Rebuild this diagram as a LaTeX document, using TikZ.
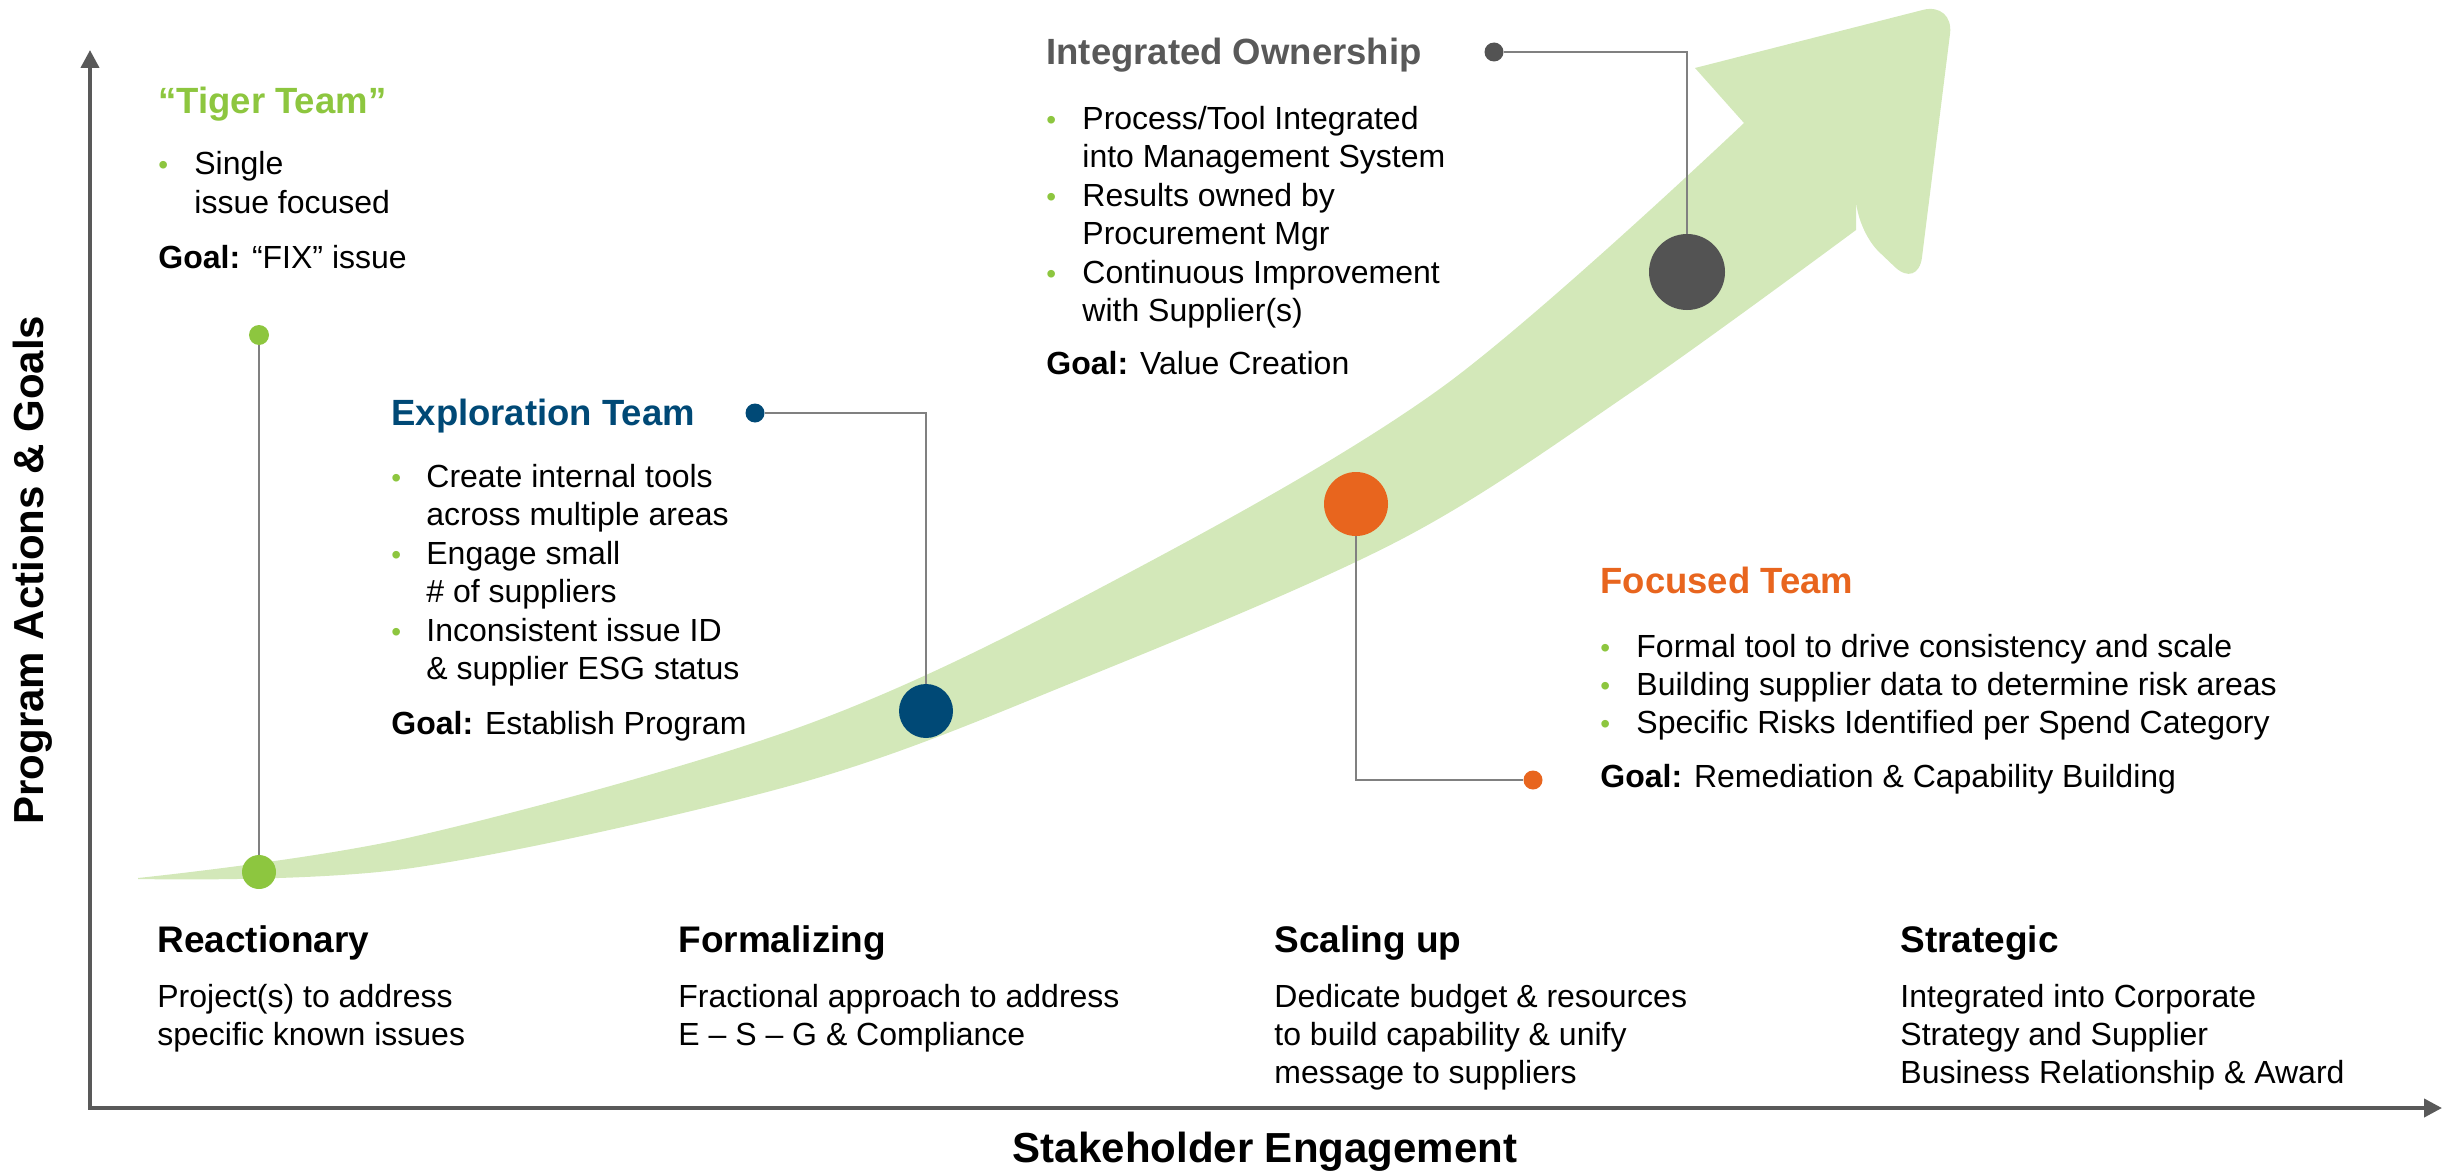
\documentclass[tikz,border=0pt]{standalone}
\usepackage{fontspec}
\setmainfont{Liberation Sans}
\usetikzlibrary{arrows.meta}
\definecolor{leafgreen}{RGB}{141,198,63}
\definecolor{bandgreen}{RGB}{211,232,185}
\definecolor{navy}{RGB}{0,73,118}
\definecolor{rust}{RGB}{232,101,30}
\definecolor{slate}{RGB}{83,83,83}
\definecolor{axisgray}{RGB}{89,89,89}
\definecolor{wiregray}{RGB}{128,128,128}

\begin{document}
\begin{tikzpicture}[x=0.5pt,y=-0.5pt,
  body/.style={anchor=base west,inner sep=0pt,font=\fontsize{16}{19}\selectfont},
  head/.style={anchor=base west,inner sep=0pt,font=\fontsize{18.25}{22}\selectfont\bfseries},
  stage/.style={anchor=base west,inner sep=0pt,font=\fontsize{18.5}{22}\selectfont\bfseries},
  blt/.style={anchor=base west,inner sep=0pt,text=leafgreen,font=\fontsize{14}{16}\selectfont},
  ball/.style={circle,fill=#1,inner sep=0pt},
  wire/.style={wiregray,line width=1.2pt},
  axislab/.style={inner sep=0pt,font=\fontsize{21}{25}\selectfont\bfseries}]
\useasboundingbox (0,0) rectangle (2446,1172);

 \fill[bandgreen] plot[smooth,tension=0.55] coordinates {(138,878) (412,837) (800,727) (1102,587) (1441,388) (1744,123)}
   -- (1695,68) [rounded corners=16] -- (1954,2) -- (1918,289) -- (1856,230) [sharp corners]
   -- plot[smooth,tension=0.55] coordinates {(1856,230) (1633,391) (1400,540) (1079,680) (800,783) (412,868) (138,879)} -- cycle;

 \coordinate (ytip) at (90,50);
 \coordinate (orig) at (90,1108);
 \coordinate (xtip) at (2442,1108);
 \draw[axisgray,line width=2pt,{Triangle[width=9pt,length=9pt]}-{Triangle[width=9pt,length=9pt]}] (ytip) -- (orig) -- (xtip);
 \node[axislab,rotate=90] (ylab) at (33,570) {Program Actions \& Goals};
 \node[axislab,anchor=base] (xlab) at (1265,1162) {Stakeholder Engagement};

 \node[ball=leafgreen,minimum size=10pt] (tigerdot) at (259,335) {};
 \node[ball=leafgreen,minimum size=17pt] (tigerpt) at (259,872) {};
 \node[ball=navy,minimum size=9.5pt] (exdot) at (755,413) {};
 \node[ball=navy,minimum size=27pt] (expt) at (926,711) {};
 \node[ball=rust,minimum size=32pt] (focpt) at (1356,504) {};
 \node[ball=rust,minimum size=9.5pt] (focdot) at (1533,780) {};
 \node[ball=slate,minimum size=38pt] (intpt) at (1687,272) {};
 \node[ball=slate,minimum size=9.5pt] (intdot) at (1494,52) {};

 \draw[wire] (tigerdot) -- (tigerpt);
 \draw[wire] (exdot) -| (expt);
 \draw[wire] (intdot) -| (intpt);
 \draw[wire] (focpt) |- (focdot);

 \node[head,text=leafgreen] (tigerhd) at (158,114) {“Tiger Team”};
 \node[blt] (tigerb) at (158,175) {\textbullet};
 \foreach \ln [count=\k] in {Single, issue focused}
   \node[body] (tigertx\k) at (194,{175+38.5*(\k-1)}) {\ln};
 \node[body] (tigergoal) at (158,268) {\textbf{Goal:} “FIX” issue};

 \node[head,text=navy] (exhd) at (391,425) {Exploration Team};
 \foreach \y in {487,564,641}
   \node[blt] (exb\y) at (391,\y) {\textbullet};
 \foreach \ln [count=\k] in {Create internal tools, across multiple areas, Engage small, \# of suppliers, Inconsistent issue ID, \& supplier ESG status}
   \node[body] (extx\k) at (426,{487+38.5*(\k-1)}) {\ln};
 \node[body] (exgoal) at (391,734) {\textbf{Goal:} Establish Program};

 \node[head,text=axisgray] (inthd) at (1046,65) {Integrated Ownership};
 \foreach \y in {129,206,283}
   \node[blt] (intb\y) at (1046,\y) {\textbullet};
 \foreach \ln [count=\k] in {Process/Tool Integrated, into Management System, Results owned by, Procurement Mgr, Continuous Improvement, with Supplier(s)}
   \node[body] (inttx\k) at (1082,{129+38.5*(\k-1)}) {\ln};
 \node[body] (intgoal) at (1046,374) {\textbf{Goal:} Value Creation};

 \node[head,text=rust] (fochd) at (1600,593) {Focused Team};
 \foreach \ln [count=\k] in {Formal tool to drive consistency and scale, Building supplier data to determine risk areas, Specific Risks Identified per Spend Category}{
   \node[blt] (focb\k) at (1600,{657+38*(\k-1)}) {\textbullet};
   \node[body] (foctx\k) at (1636,{657+38*(\k-1)}) {\ln};}
 \node[body] (focgoal) at (1600,787) {\textbf{Goal:} Remediation \& Capability Building};

 \node[stage] (react) at (157,952) {Reactionary};
 \foreach \ln [count=\k] in {Project(s) to address, specific known issues}
   \node[body] (reacttx\k) at (157,{1007+38*(\k-1)}) {\ln};
 \node[stage] (formal) at (678,952) {Formalizing};
 \foreach \ln [count=\k] in {Fractional approach to address, E – S – G \& Compliance}
   \node[body] (formaltx\k) at (678,{1007+38*(\k-1)}) {\ln};
 \node[stage] (scale) at (1274,952) {Scaling up};
 \foreach \ln [count=\k] in {Dedicate budget \& resources, to build capability \& unify, message to suppliers}
   \node[body] (scaletx\k) at (1274,{1007+38*(\k-1)}) {\ln};
 \node[stage] (strat) at (1900,952) {Strategic};
 \foreach \ln [count=\k] in {Integrated into Corporate, Strategy and Supplier, Business Relationship \& Award}
   \node[body] (strattx\k) at (1900,{1007+38*(\k-1)}) {\ln};
\end{tikzpicture}
\end{document}
